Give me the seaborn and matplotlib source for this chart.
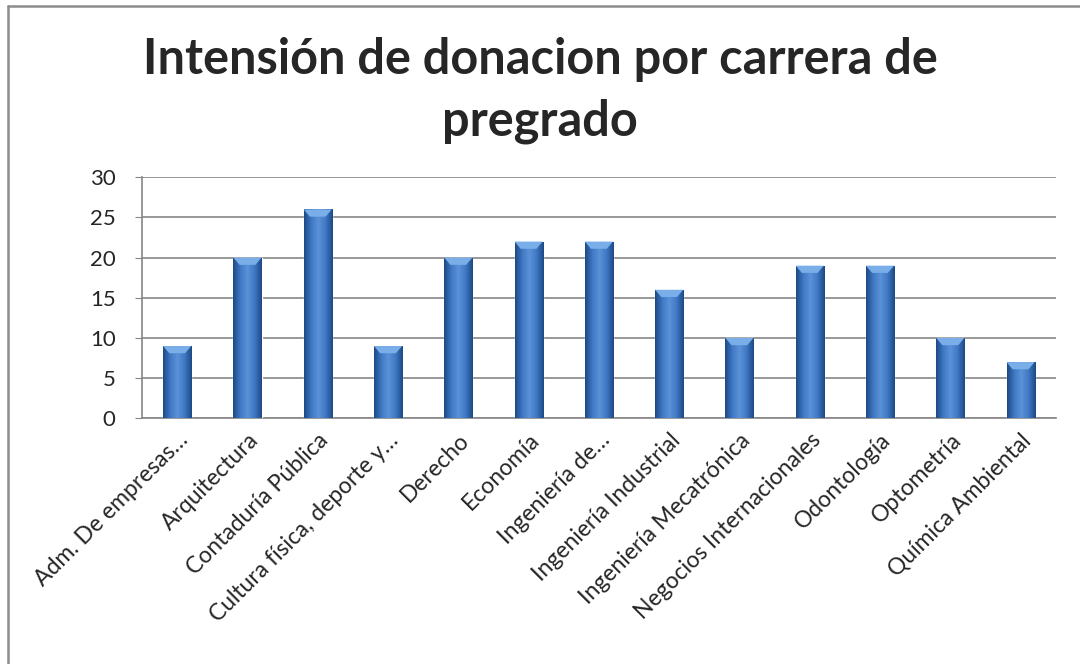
import numpy as np
import pandas as pd
import matplotlib
matplotlib.use("Agg")
import matplotlib.pyplot as plt
import seaborn as sns
from matplotlib.colors import LinearSegmentedColormap
from matplotlib.lines import Line2D

carreras = [
    "Adm. De empresas…", "Arquitectura", "Contaduría Pública",
    "Cultura física, deporte y…", "Derecho", "Economía", "Ingeniería de…",
    "Ingeniería Industrial", "Ingeniería Mecatrónica",
    "Negocios Internacionales", "Odontología", "Optometría",
    "Química Ambiental",
]
intencion = [9, 20, 26, 9, 20, 22, 22, 16, 10, 19, 19, 10, 7]

df = pd.DataFrame({"carrera": carreras, "valor": intencion})

sns.set_style("white")
plt.rcParams["font.family"] = ["Lato", "DejaVu Sans"]

fig = plt.figure(figsize=(10.8, 6.64), dpi=100)
ax = fig.add_axes([0.1315, 0.37, 0.846, 0.363])

# chart area border (left and top edges visible in the reference)
fig.add_artist(Line2D([8 / 1080, 8 / 1080], [0, 1 - 6 / 664], transform=fig.transFigure,
                      color="#8c8c8c", lw=1.8))
fig.add_artist(Line2D([8 / 1080, 1], [1 - 6 / 664, 1 - 6 / 664], transform=fig.transFigure,
                      color="#8c8c8c", lw=1.8))

sns.barplot(data=df, x="carrera", y="valor", color="#3a6fb5", width=0.4,
            ax=ax, zorder=3)

# Excel-like gradient fill on each bar
cmap = LinearSegmentedColormap.from_list(
    "bev", ["#1d4a86", "#3f78c4", "#5b92d8", "#3f78c4", "#1d4a86"])
grad = np.linspace(0, 1, 64).reshape(1, -1)
for p in ax.patches:
    x0, y0 = p.get_x(), p.get_y()
    w, h = p.get_width(), p.get_height()
    im = ax.imshow(grad, cmap=cmap, aspect="auto", extent=[x0, x0 + w, y0, y0 + h],
                   zorder=4)
    im.set_clip_path(p)
    # bevel at top
    bh = 0.9
    ax.fill([x0, x0 + w, x0 + w * 0.78, x0 + w * 0.22],
            [y0 + h, y0 + h, y0 + h - bh, y0 + h - bh],
            color="#7aaee8", zorder=5, lw=0)

ax.set_xlim(-0.5, len(carreras) - 0.5)
ax.set_ylim(0, 30)
ax.set_yticks(range(0, 31, 5))
ax.yaxis.grid(True, color="#868686", lw=1.2, zorder=0)
ax.set_axisbelow(True)
ax.set_xlabel("")
ax.set_ylabel("")
for s in ["top", "right"]:
    ax.spines[s].set_visible(False)
for s in ["left", "bottom"]:
    ax.spines[s].set_color("#868686")
    ax.spines[s].set_linewidth(1.2)
ax.tick_params(axis="y", length=5, color="#868686", labelsize=16, pad=14, left=True)
ax.tick_params(axis="x", length=0, labelsize=16.5, pad=8)
plt.setp(ax.get_xticklabels(), rotation=45, ha="right", rotation_mode="anchor")

fig.text(0.5, 0.945, "Intensión de donacion por carrera de\npregrado", fontsize=35,
         fontweight="bold", ha="center", va="top", linespacing=1.45)

fig.savefig("out.png", dpi=100)
